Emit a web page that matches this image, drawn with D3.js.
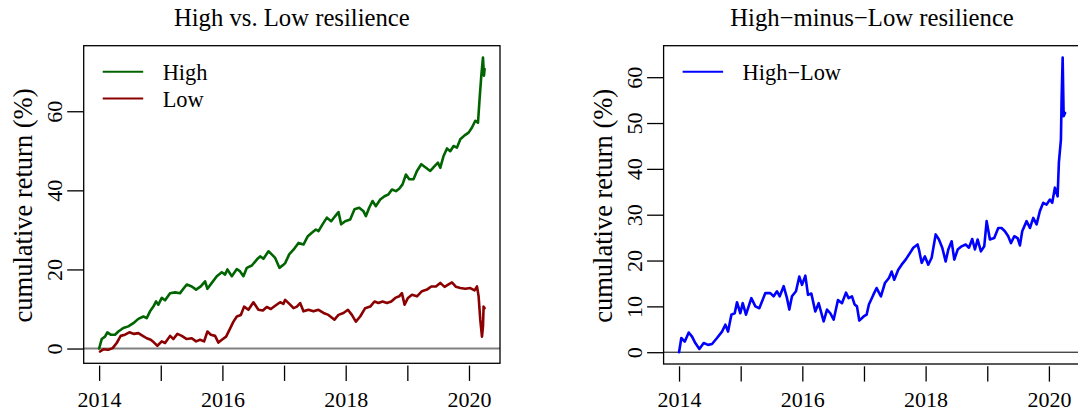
<!DOCTYPE html>
<html>
<head>
<meta charset="utf-8">
<script src="https://cdn.jsdelivr.net/npm/d3@7"></script>
<style>
  html, body { margin: 0; padding: 0; background: #fff; }
  svg { display: block; }
  text { font-family: "Liberation Serif", "Times New Roman", Times, serif; fill: #000; }
</style>
</head>
<body>
<svg id="chart" width="1078" height="414"></svg>
<script>
// ---------------- data (decimal years, cumulative return in %) ----------------
const highYears = [2014.000,2014.042,2014.096,2014.133,2014.188,2014.258,2014.312,2014.393,2014.474,2014.555,2014.636,2014.718,2014.772,2014.826,2014.880,2014.924,2014.961,
  2015.016,2015.070,2015.151,2015.232,2015.313,2015.367,2015.422,2015.503,2015.573,2015.649,2015.719,2015.757,2015.828,2015.909,2015.990,
  2016.044,2016.081,2016.153,2016.234,2016.287,2016.341,2016.396,2016.477,2016.558,2016.612,2016.666,2016.747,2016.800,2016.856,2016.925,2016.990,
  2017.018,2017.083,2017.153,2017.234,2017.315,2017.386,2017.451,2017.516,2017.559,2017.624,2017.695,2017.765,2017.830,2017.883,2017.927,2017.992,
  2018.073,2018.143,2018.219,2018.289,2018.328,2018.381,2018.435,2018.490,2018.560,2018.630,2018.695,2018.750,2018.815,2018.868,2018.922,2018.977,
  2019.031,2019.100,2019.156,2019.226,2019.302,2019.372,2019.442,2019.497,2019.534,2019.588,2019.643,2019.696,2019.750,2019.805,2019.859,2019.929,2019.994,
  2020.049,2020.102,2020.146,2020.172,2020.200,2020.227,2020.243,2020.253];
const highReturn = [0,2.4,3.0,4.1,3.5,3.5,4.3,5.2,5.6,6.4,7.5,8.1,7.7,9.4,10.6,11.9,11.1,
  12.8,12.2,14.0,14.2,14.0,15.1,16.2,15.7,14.9,15.7,17.0,15.1,16.6,18.3,19.3,
  18.7,20.0,18.3,20.1,19.5,18.3,20.4,21.0,22.5,23.3,22.7,24.6,23.8,22.9,20.4,21.2,
  21.6,23.8,25.0,26.7,26.3,28.4,29.3,30.1,29.7,31.4,33.1,32.2,33.5,34.5,31.4,32.2,
  32.6,35.2,35.6,34.7,33.5,35.6,37.3,36.0,37.7,38.5,39.0,40.2,39.8,40.4,41.5,44.0,
  42.8,42.8,44.9,46.6,45.7,44.9,46.1,47.0,45.7,48.7,50.6,49.9,51.2,50.8,52.9,53.9,54.6,
  55.9,57.6,57.1,63.1,69.0,73.6,69.0,70.7];

const lowYears = [2014.015,2014.068,2014.149,2014.220,2014.285,2014.350,2014.420,2014.490,2014.567,2014.636,2014.708,2014.772,2014.837,2014.891,2014.945,
  2015.016,2015.070,2015.151,2015.205,2015.270,2015.341,2015.422,2015.503,2015.573,2015.638,2015.703,2015.757,2015.812,2015.881,2015.935,
  2016.007,2016.060,2016.114,2016.179,2016.234,2016.299,2016.352,2016.422,2016.503,2016.584,2016.656,2016.720,2016.786,2016.856,2016.937,2016.990,
  2017.018,2017.099,2017.153,2017.208,2017.261,2017.315,2017.396,2017.477,2017.558,2017.640,2017.720,2017.818,2017.883,2017.964,
  2018.036,2018.100,2018.165,2018.235,2018.316,2018.398,2018.467,2018.532,2018.597,2018.669,2018.739,2018.804,2018.868,2018.912,2018.955,
  2019.010,2019.075,2019.156,2019.237,2019.318,2019.388,2019.464,2019.534,2019.604,2019.669,2019.724,2019.789,2019.859,2019.940,
  2020.021,2020.091,2020.130,2020.156,2020.183,2020.211,2020.227,2020.237,2020.253];
const lowReturn = [-0.76,-0.2,-0.3,0.1,1.4,3.2,3.5,4.1,3.7,3.9,3.2,2.6,2.2,1.5,0.7,
  1.8,1.4,3.2,2.4,3.7,3.2,2.4,2.6,1.8,2.2,1.8,4.3,3.5,3.2,1.5,
  2.4,3.0,4.7,6.8,8.1,8.5,10.6,9.8,11.7,9.8,9.6,10.5,10.0,10.8,11.7,11.3,
  12.3,11.1,10.2,10.6,11.5,9.4,9.8,9.4,9.8,9.0,8.5,7.3,8.5,9.0,
  9.8,8.5,6.8,8.1,10.2,10.6,11.9,11.5,11.9,11.5,11.9,12.8,13.2,14.0,11.1,
  12.8,13.6,13.2,14.5,14.9,15.7,15.7,16.6,15.6,16.2,16.7,15.6,15.3,15.1,
  15.3,14.7,15.7,13.2,7.3,3.0,5.6,10.6,10.2];

const hmlYears = [2014.000,2014.037,2014.092,2014.157,2014.211,2014.264,2014.330,2014.400,2014.470,2014.535,2014.616,2014.697,2014.751,2014.795,2014.849,2014.903,2014.940,2014.994,
  2015.033,2015.086,2015.173,2015.238,2015.302,2015.400,2015.480,2015.535,2015.589,2015.633,2015.697,2015.751,2015.789,2015.832,2015.897,2015.951,2015.995,
  2016.049,2016.092,2016.146,2016.210,2016.265,2016.346,2016.400,2016.454,2016.508,2016.578,2016.643,2016.708,2016.751,2016.805,2016.849,2016.886,2016.924,2016.995,
  2017.043,2017.080,2017.151,2017.205,2017.275,2017.340,2017.405,2017.449,2017.491,2017.556,2017.611,2017.676,2017.730,2017.800,2017.870,2017.892,2017.936,2017.989,
  2018.043,2018.098,2018.163,2018.216,2018.270,2018.325,2018.368,2018.422,2018.465,2018.520,2018.584,2018.649,2018.703,2018.756,2018.800,2018.843,2018.897,2018.951,2018.990,
  2019.043,2019.113,2019.178,2019.232,2019.286,2019.340,2019.384,2019.438,2019.492,2019.530,2019.567,2019.638,2019.692,2019.746,2019.800,2019.854,2019.908,2019.962,
  2020.016,2020.054,2020.097,2020.141,2020.162,2020.195,2020.206,2020.223,2020.239,2020.262];
const hmlReturn = [0,3.1,2.3,4.3,3.4,2.0,0.7,2.0,1.6,1.8,3.1,4.5,6.0,4.5,8.2,8.5,10.9,8.5,
  10.7,8.2,11.8,10.0,9.6,12.9,12.9,12.2,13.3,12.2,14.4,11.8,9.3,12.2,13.3,16.5,14.7,
  16.7,12.5,12.8,8.9,10.7,6.7,9.3,8.5,7.1,11.4,10.7,13.0,11.8,12.2,10.4,10.0,6.9,7.8,
  8.2,10.4,12.5,14.0,12.2,15.1,16.2,17.6,15.8,18.0,19.1,20.2,21.3,22.8,23.5,22.4,19.5,20.9,
  19.1,20.6,25.7,24.6,22.8,19.8,22.4,24.2,20.2,22.4,23.1,23.5,22.8,24.7,22.4,24.6,22.0,23.1,28.6,
  24.6,24.9,27.1,27.1,26.4,25.3,23.8,25.3,24.9,23.3,26.4,28.6,27.1,29.3,27.9,30.8,32.6,32.2,
  33.3,32.6,35.9,34.0,41.4,46.4,55.2,64.3,51.5,52.2];

const yearTicks = [2014, 2015, 2016, 2017, 2018, 2019, 2020];
const leftYTicks = [0, 20, 40, 60];
const rightYTicks = [0, 10, 20, 30, 40, 50, 60];
const leftTitle = "High vs. Low resilience";
const rightTitle = "High\u2212minus\u2212Low resilience";
const yLabel = "cumulative return (%)";
const leftLegend = ["High", "Low"];
const rightLegend = ["High\u2212Low"];

// ---------------- drawing ----------------
const svg = d3.select("#chart");
const serif = '"Liberation Serif", "Times New Roman", Times, serif';

function padded(ext) {
  const r = ext[1] - ext[0];
  return [ext[0] - 0.04 * r, ext[1] + 0.04 * r];
}

function panel(opts) {
  const { box, series, yTicks, title, zeroColor, zeroWidth, legend } = opts;
  const allX = series.flatMap(s => s.xs);
  const allY = series.flatMap(s => s.ys);
  const x = d3.scaleLinear().domain(padded(d3.extent(allX))).range([box.x0, box.x1]);
  const y = d3.scaleLinear().domain(padded(d3.extent(allY))).range([box.y1, box.y0]);

  const g = svg.append("g");

  // zero line
  g.append("line")
    .attr("x1", box.x0).attr("x2", box.x1)
    .attr("y1", y(0)).attr("y2", y(0))
    .attr("stroke", zeroColor).attr("stroke-width", zeroWidth);

  // series
  const line = d3.line().x(d => x(d[0])).y(d => y(d[1]));
  series.forEach(s => {
    const pts = s.xs.map((v, i) => [v, s.ys[i]]);
    g.append("path").datum(pts)
      .attr("d", line)
      .attr("fill", "none")
      .attr("stroke", s.color)
      .attr("stroke-width", 2.6)
      .attr("stroke-linejoin", "round")
      .attr("stroke-linecap", "round");
  });

  // box
  g.append("rect")
    .attr("x", box.x0).attr("y", box.y0)
    .attr("width", box.x1 - box.x0).attr("height", box.y1 - box.y0)
    .attr("fill", "none").attr("stroke", "#000").attr("stroke-width", 1.3);

  // x axis ticks (start slightly below the box, like the reference)
  const axY = box.y1 + 2.3;
  const xAxis = d3.axisBottom(x).tickValues(yearTicks).tickSize(15.3).tickSizeOuter(0)
    .tickFormat(d => (d % 2 === 0 ? String(d) : ""));
  const xg = g.append("g").attr("transform", `translate(0,${axY})`).call(xAxis);
  xg.attr("font-family", serif);
  xg.select(".domain").remove();
  xg.selectAll(".tick line").attr("stroke", "#000").attr("stroke-width", 1.3);
  xg.selectAll(".tick text")
    .attr("y", 0).attr("dy", 0)
    .attr("transform", `translate(0,${407 - axY})`)
    .attr("font-size", 22)
    .attr("fill", "#000");

  // y axis
  const yAxis = d3.axisLeft(y).tickValues(yTicks).tickSize(16.5).tickSizeOuter(0);
  const yg = g.append("g").attr("transform", `translate(${box.x0},0)`).call(yAxis);
  yg.attr("font-family", serif);
  yg.select(".domain").remove();
  yg.selectAll(".tick line").attr("stroke", "#000").attr("stroke-width", 1.3);
  yg.selectAll(".tick text")
    .attr("x", 0).attr("y", 0).attr("dy", 0)
    .attr("text-anchor", "middle")
    .attr("transform", "translate(-21.5,0) rotate(-90)")
    .attr("font-size", 22)
    .attr("fill", "#000");

  // y label
  g.append("text")
    .attr("transform", `translate(${box.x0 - 52},${(box.y0 + box.y1) / 2 + 1}) rotate(-90)`)
    .attr("text-anchor", "middle")
    .attr("font-size", 26.5)
    .text(yLabel);

  // title
  g.append("text")
    .attr("x", (box.x0 + box.x1) / 2).attr("y", 26)
    .attr("text-anchor", "middle")
    .attr("font-size", 24.7)
    .text(title);

  // legend
  legend.forEach((lab, i) => {
    const ly = 71.8 + i * 26.6;
    g.append("line")
      .attr("x1", box.x0 + 19).attr("x2", box.x0 + 59.5)
      .attr("y1", ly).attr("y2", ly)
      .attr("stroke", series[i].color).attr("stroke-width", 2);
    g.append("text")
      .attr("x", box.x0 + 79).attr("y", ly + 8.2)
      .attr("font-size", 22.4)
      .text(lab);
  });
}

panel({
  box: { x0: 83.7, x1: 500, y0: 45.7, y1: 363.3 },
  series: [
    { xs: highYears, ys: highReturn, color: "#006400" },
    { xs: lowYears, ys: lowReturn, color: "#8B0000" }
  ],
  yTicks: leftYTicks,
  title: leftTitle,
  zeroColor: "#808080",
  zeroWidth: 2,
  legend: leftLegend
});

panel({
  box: { x0: 663.6, x1: 1080.5, y0: 45.7, y1: 364 },
  series: [
    { xs: hmlYears, ys: hmlReturn, color: "#0000FF" }
  ],
  yTicks: rightYTicks,
  title: rightTitle,
  zeroColor: "#000",
  zeroWidth: 1,
  legend: rightLegend
});
</script>
</body>
</html>
